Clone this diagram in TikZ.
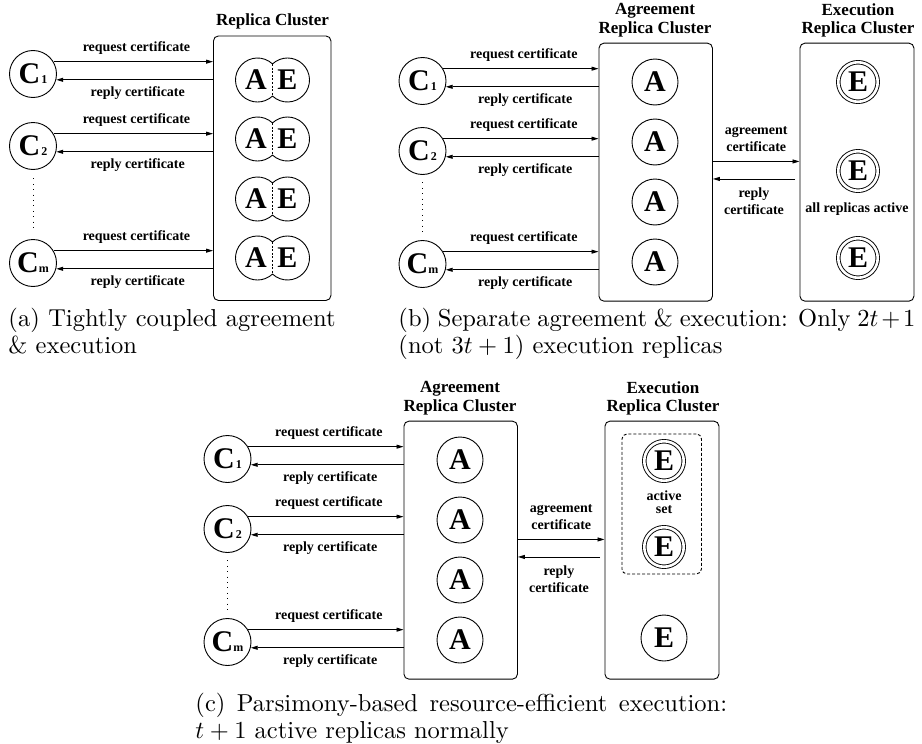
\documentclass[tikz,border=0pt]{standalone}
\usepackage{fontspec}
\newfontfamily\tnr{Liberation Serif}
\usetikzlibrary{arrows.meta,calc}
\newcommand\subsz{\fontsize{12}{12}\selectfont}
\tikzset{
  ln/.style={line width=0.9pt},
  arr/.style={ln,-{Triangle[length=7pt,width=4pt]}},
  lbl/.style={font=\tnr\bfseries\fontsize{14}{16.7}\selectfont, inner sep=0pt, align=center},
  ttl/.style={font=\tnr\bfseries\fontsize{17}{18.3}\selectfont, inner sep=0pt, align=center},
  big/.style={font=\tnr\bfseries\fontsize{30}{30}\selectfont, inner sep=0pt},
  client/.style={circle, draw, ln, minimum size=47pt, inner sep=0pt, big},
  agr/.style={circle, draw, ln, minimum size=46pt, inner sep=0pt, big},
  exetwo/.style={circle, draw, ln, double, double distance=2.6pt, minimum size=39.5pt, inner sep=0pt, big},
  exeone/.style={circle, draw, ln, minimum size=46pt, inner sep=0pt, big},
  cluster/.style={draw, ln, rounded corners=5pt, anchor=north west, inner sep=0pt},
  dots/.style={line width=1pt, dash pattern=on 0.9pt off 4.5pt},
  capt/.style={font=\fontsize{10}{10.85}\selectfont, inner sep=0pt, anchor=base west, scale=2.45},
}
\newcommand\aepair[3]{%
  \node[big] (#1A) at (#2-16.5,#3) {A};
  \node[big] (#1E) at (#2+15,#3) {E};
  \draw[ln] (#2-15,#3) ++(47:22pt) arc[start angle=47,end angle=313,radius=22pt]
    arc[start angle=-133,end angle=133,radius=22pt] -- cycle;
  \draw[ln, dash pattern=on 2pt off 1.6pt] (#2,#3) ++(0pt,16pt) -- ++(0pt,-32pt);
}
\newcommand\clientarrows[2]{% #1 prefix, #2 box
  \foreach \c in {c1,c2,cm} {
    \draw[arr] (#1\c.31) -- node[lbl, pos=0.52, yshift=13.3pt] {request certificate} (#1\c.31 -| #2.west);
    \draw[arr] (#1\c.-14 -| #2.west) -- node[lbl, pos=0.48, yshift=-13.5pt] {reply certificate} (#1\c.-14);
  }
}
\newcommand\agrpanel[1]{%
  \node[client] (#1c1) at (422.5,81) {C\hspace{1pt}{\subsz 1}};
  \node[client] (#1c2) at (422.5,151) {C\hspace{1pt}{\subsz 2}};
  \node[client] (#1cm) at (422.5,264) {C{\subsz m}};
  \draw[dots] ([yshift=-7.5pt]#1c2.south) -- ([yshift=7.5pt]#1cm.north);
  \node[cluster, minimum width=113.5pt, minimum height=258pt] (#1agr) at (598.5,42.7) {};
  \node[ttl] (#1agrt) at (655,20.2) {Agreement\\Replica Cluster};
  \node[agr] (#1a1) at (655,82) {A};
  \node[agr] (#1a2) at (655,142) {A};
  \node[agr] (#1a3) at (655,202) {A};
  \node[agr] (#1a4) at (655,262) {A};
  \clientarrows{#1}{#1agr}
  \node[cluster, minimum width=114pt, minimum height=258pt] (#1exe) at (799.5,42.7) {};
  \node[ttl] (#1exet) at (858,20.2) {Execution\\Replica Cluster};
  \draw[arr] ([yshift=10.7pt]#1agr.east) -- node[lbl, yshift=22pt] {agreement\\certificate} ([yshift=10.7pt]#1agr.east -| #1exe.west);
  \draw[arr] ($(#1exe.west)+(-4.5,6.8)$) -- node[lbl, yshift=-22pt] {reply\\certificate} ($(#1agr.east)+(0,6.8)$);
}
\begin{document}
\begin{tikzpicture}[x=1pt,y=-1pt]
\path[use as bounding box] (0,0) rectangle (922,744);
% ---------------- panel (a)
\node[client] (ac1) at (33,74) {C\hspace{1pt}{\subsz 1}};
\node[client] (ac2) at (33,146) {C\hspace{1pt}{\subsz 2}};
\node[client] (acm) at (33,263) {C{\subsz m}};
\draw[dots] ([yshift=-8.5pt]ac2.south) -- ([yshift=7.5pt]acm.north);
\node[cluster, minimum width=117.5pt, minimum height=264.5pt] (abox) at (213,35.5) {};
\node[ttl] (attl) at (272.5,21.5) {Replica Cluster};
\aepair{ar1}{272.5}{80}
\aepair{ar2}{272.5}{139}
\aepair{ar3}{272.5}{199}
\aepair{ar4}{272.5}{258}
\clientarrows{a}{abox}
% ---------------- panel (b)
\agrpanel{b}
\node[exetwo] (be1) at (858,82) {E};
\node[exetwo] (be2) at (858,171) {E};
\node[exetwo] (be3) at (858,258) {E};
\node[lbl] (ball) at (857,209) {all replicas active};
% ---------------- panel (c)
\begin{scope}[shift={(-195,378)}]
\agrpanel{c}
\end{scope}
\node[draw, ln, dash pattern=on 3pt off 2pt, rounded corners=5pt, anchor=north west,
      minimum width=79.5pt, minimum height=140pt, inner sep=0pt] (cact) at (621.5,433.5) {};
\node[exetwo] (ce1) at (664,461) {E};
\node[exetwo] (ce2) at (664,547) {E};
\node[exeone] (ce3) at (664,638) {E};
\node[lbl, font=\tnr\bfseries\fontsize{14}{13}\selectfont] (cset) at (664,502.5) {active\\set};
% ---------------- captions
\node[capt] (capa) at (8,326.5) {\parbox[t]{133.5pt}{(a) Tightly coupled agreement\linebreak \& execution}};
\node[capt] (capb) at (398,326.5) {\parbox[t]{211pt}{(b) Separate agreement \& execution: Only $2t+1$\linebreak (not $3t+1$) execution replicas}};
\node[capt] (capc) at (195,711.5) {\parbox[t]{217pt}{(c) Parsimony-based resource-efficient execution:\linebreak $t+1$ active replicas normally}};
\end{tikzpicture}
\end{document}
